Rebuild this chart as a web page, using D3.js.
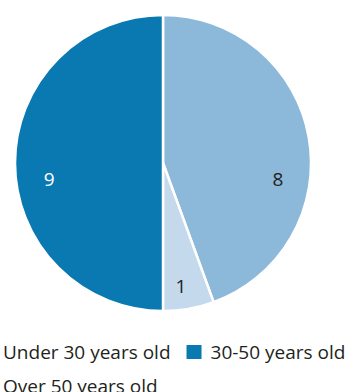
<!DOCTYPE html>
<html>
<head>
<meta charset="utf-8">
<script src="https://cdn.jsdelivr.net/npm/d3@7"></script>
<style>
  body { margin: 0; background: #fff; }
  svg { display: block; font-family: "Open Sans", "Noto Sans", sans-serif; }
</style>
</head>
<body>
<script>
// legend order
const CATEGORIES = ["Under 30 years old", "30-50 years old", "Over 50 years old"]
const VALUES = [8, 9, 1]
const COLORS = ["#8cb8d9", "#0a78b1", "#c4d9ec"]
const LABEL_COLORS = ["#231f20", "#ffffff", "#231f20"]
// order of the slices, clockwise from 12 o'clock
const PIE_ORDER = [0, 2, 1]

const m = {
    width: 349,
    height: 392
}

const cx = 163, cy = 163, r = 148

const svg = d3.select("body").append('svg')
    .attr('width', m.width)
    .attr('height', m.height)

const data = PIE_ORDER.map(i => ({ name: CATEGORIES[i], value: VALUES[i], color: COLORS[i], label: LABEL_COLORS[i] }))

const pie = d3.pie().sort(null).value(d => d.value)
const arcs = pie(data)

const arc = d3.arc().innerRadius(0).outerRadius(r)

const g = svg.append('g').attr('transform', `translate(${cx},${cy})`)

g.selectAll('path')
  .data(arcs)
  .enter()
  .append('path')
    .attr('d', arc)
    .attr('fill', d => d.data.color)
    .attr('stroke', '#fff')
    .attr('stroke-width', 2.5)
    .attr('stroke-linejoin', 'round')

// label placement tweaks (deg offset from mid angle, radius)
const labelTweak = [[18, 116], [1.7, 124], [-8, 115]]

g.selectAll('.lbl')
  .data(arcs)
  .enter()
  .append('text')
    .attr('class', 'lbl')
    .attr('transform', (d, i) => {
        const a = (d.startAngle + d.endAngle) / 2 + labelTweak[i][0] * Math.PI / 180
        const lr = labelTweak[i][1]
        return `translate(${lr * Math.sin(a)},${-lr * Math.cos(a)})`
    })
    .attr('text-anchor', 'middle')
    .attr('dy', '0.36em')
    .attr('font-size', 19)
    .attr('fill', d => d.data.label)
    .text(d => d.data.value)

// legend, wraps into rows
const legend = svg.append('g')
const sw = 15, gap = 9, itemGap = 16
let lx = -21, row = 0
CATEGORIES.forEach((c, i) => {
    const item = legend.append('g')
    item.append('rect')
        .attr('width', sw).attr('height', 14)
        .attr('fill', COLORS[i])
    const t = item.append('text')
        .attr('x', sw + gap)
        .attr('y', 13.5)
        .attr('font-size', 19)
        .attr('fill', '#231f20')
        .text(c)
    const w = sw + gap + t.node().getComputedTextLength()
    if (lx + w > m.width && lx > -21) { lx = -21; row++ }
    item.attr('transform', `translate(${lx},${345 + row * 34})`)
    lx += w + itemGap
})
</script>
</body>
</html>
